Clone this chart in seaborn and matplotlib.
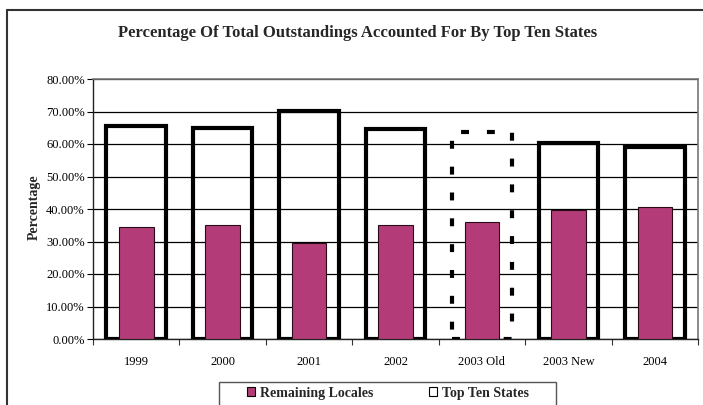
import matplotlib
matplotlib.use("Agg")
import matplotlib.pyplot as plt
import matplotlib.ticker as mticker
from matplotlib.lines import Line2D
from matplotlib.patches import Patch, Rectangle
import seaborn as sns
import pandas as pd

years = ["1999", "2000", "2001", "2002", "2003 Old", "2003 New", "2004"]
top_ten_states = [65.5, 64.8, 70.2, 64.7, 63.8, 60.2, 59.0]
remaining_locales = [34.6, 35.2, 29.5, 35.2, 36.0, 39.7, 40.7]
y_ticks = [0, 10, 20, 30, 40, 50, 60, 70, 80]

df = pd.DataFrame({"year": years, "top": top_ten_states, "rest": remaining_locales})

sns.set_theme(style="white")
plt.rcParams["font.family"] = ["Liberation Serif", "DejaVu Serif"]

fig = plt.figure(figsize=(7.03, 4.05), dpi=100)
ax = fig.add_axes([93 / 703, 1 - 339 / 405, (698 - 93) / 703, (339 - 79) / 405])

magenta = "#B33C78"

# Top-ten outline bars (unfilled)
sns.barplot(data=df, x="year", y="top", order=years, ax=ax, width=0.69,
            fill=False, edgecolor="black", linewidth=3.0, errorbar=None, zorder=3)
outline_bars = list(ax.patches)
for p in outline_bars:
    p.set_facecolor("none")
    p.set_edgecolor("black")
    p.set_linewidth(3.0)
    p.set_zorder(3)
outline_bars[4].set_linestyle((0, (1.9, 4.3)))
outline_bars[4].set_capstyle("butt")

# Remaining-locale filled bars
sns.barplot(data=df, x="year", y="rest", order=years, ax=ax, width=0.40,
            color=magenta, saturation=1, edgecolor="#2a0a18", linewidth=0.8,
            errorbar=None, zorder=4)
for p in ax.patches[len(outline_bars):]:
    p.set_facecolor(magenta)
    p.set_zorder(4)

ax.set_ylim(0, 80)
ax.set_xlim(-0.5, len(years) - 0.5)
ax.set_yticks(y_ticks)
ax.yaxis.set_major_formatter(mticker.FuncFormatter(lambda v, _: f"{v:.2f}%"))
ax.yaxis.grid(True, color="black", linewidth=0.9, zorder=0)
ax.set_axisbelow(True)

ax.set_xticks(range(len(years)))
ax.set_xticklabels(years)
ax.set_xticks([i + 0.5 for i in range(-1, len(years))], minor=True)
ax.tick_params(axis="x", which="major", length=0, labelsize=9, pad=12, colors="black")
ax.tick_params(axis="x", which="minor", length=4, width=0.8, direction="out", color="#333333", bottom=True)
ax.tick_params(axis="y", length=4, width=0.8, direction="out", labelsize=9, colors="black", left=True, pad=2)

for side in ["left", "bottom"]:
    ax.spines[side].set_color("#222222")
    ax.spines[side].set_linewidth(1.0)
for side in ["top", "right"]:
    ax.spines[side].set_color("#777777")
    ax.spines[side].set_linewidth(1.2)
    ax.spines[side].set_visible(True)

ax.set_xlabel("")
ax.set_ylabel("Percentage", fontsize=10, fontweight="bold")
ax.yaxis.set_label_coords((41 - 93) / 605, (339 - 207) / 260)

fig.text(358 / 703, 1 - 33 / 405, "Percentage Of Total Outstandings Accounted For By Top Ten States",
         ha="center", va="center", fontsize=12, fontweight="bold")

# Legend frame, running past the lower edge of the chart area
fig.add_artist(Rectangle((219 / 703, -0.05), (556 - 219) / 703, 0.05 + (405 - 382) / 405,
                         transform=fig.transFigure, facecolor="white",
                         edgecolor="#555555", linewidth=1.0))

handles = [Patch(facecolor=magenta, edgecolor="black", linewidth=0.8, label="Remaining Locales"),
           Patch(facecolor="white", edgecolor="black", linewidth=0.8, label="Top Ten States")]
leg = fig.legend(handles=handles, loc="center left", bbox_to_anchor=(247 / 703, 1 - 393 / 405),
                 ncol=2, frameon=False, prop={"weight": "bold", "size": 10},
                 handlelength=0.6, handleheight=0.6, handletextpad=0.35, columnspacing=4.0,
                 borderpad=0, borderaxespad=0)
leg.set_zorder(5)

# Outer chart-area border (left and top edges)
fig.add_artist(Line2D([7 / 703, 7 / 703], [0, 1 - 10 / 405], transform=fig.transFigure,
                      color="#333333", linewidth=1.5))
fig.add_artist(Line2D([7 / 703, 1], [1 - 10 / 405, 1 - 10 / 405], transform=fig.transFigure,
                      color="#333333", linewidth=1.5))

fig.savefig("out.png", dpi=100)
